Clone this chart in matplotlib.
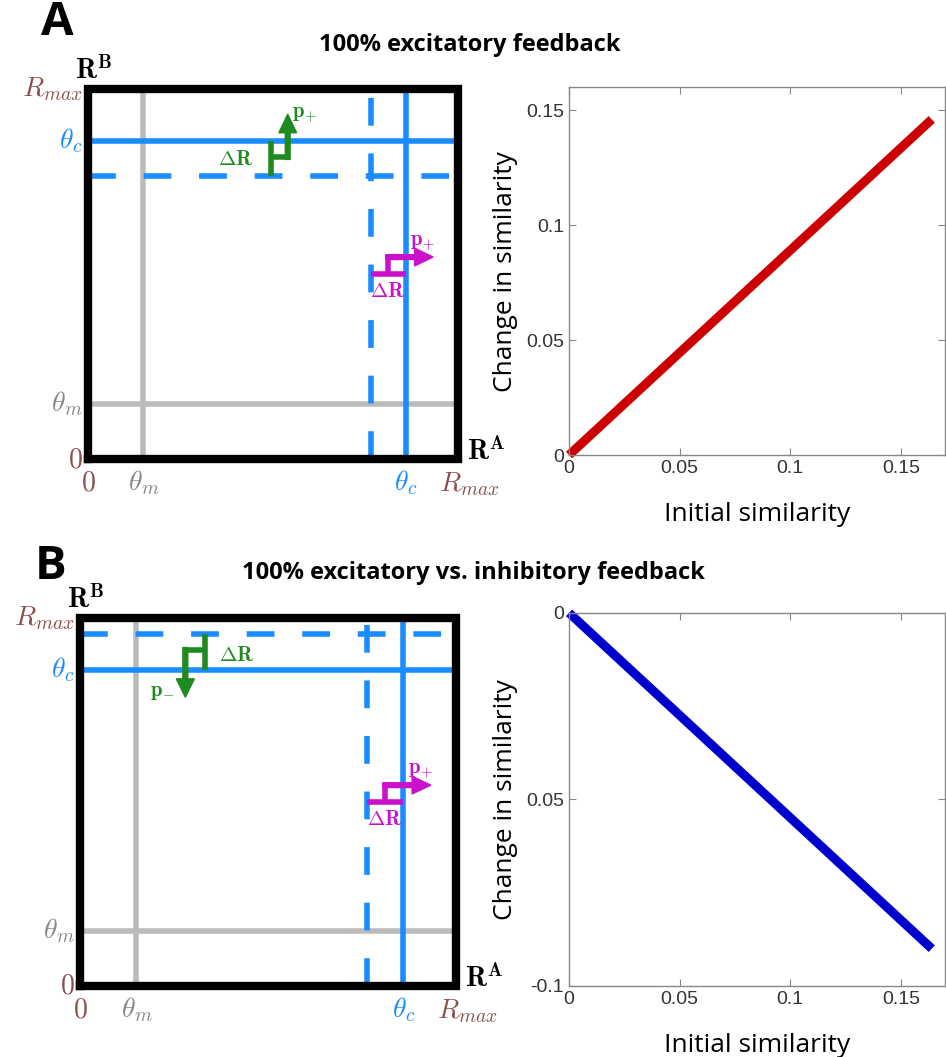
import matplotlib
matplotlib.use('Agg')
import matplotlib.pyplot as plt

plt.rcParams['mathtext.fontset'] = 'cm'

# threshold positions in the schematic (fraction of R_max)
theta_m = 0.15
theta_c = 0.86
shift_a = 0.765   # dashed theta_c after excitatory feedback (A)
shift_b_x = 0.763  # dashed vertical in B
shift_b_y = 0.957  # dashed horizontal in B

# right-hand line plots
init_sim = [0.0, 0.164]
change_exc = [0.0, 0.146]
change_inh = [0.0, -0.09]

BLUE = '#1a8cff'
GRAY = '#bbbbbb'
GREEN = '#1f8a1f'
MAGENTA = '#cc11cc'
BROWN = '#8c5050'

fig = plt.figure(figsize=(9.46, 10.57), dpi=100)


def schematic(rect, dash_x, dash_y):
    ax = fig.add_axes(rect)
    ax.set_xlim(0, 1)
    ax.set_ylim(0, 1)
    ax.axis('off')
    # gray theta_m lines
    ax.plot([theta_m, theta_m], [0, 1], color=GRAY, lw=4, zorder=1)
    ax.plot([0, 1], [theta_m, theta_m], color=GRAY, lw=4, zorder=1)
    # blue theta_c lines
    ax.plot([theta_c, theta_c], [0, 1], color=BLUE, lw=4, zorder=2)
    ax.plot([0, 1], [theta_c, theta_c], color=BLUE, lw=4, zorder=2)
    ax.plot([dash_x, dash_x], [0, 1], color=BLUE, lw=4, ls=(0, (5, 5)), zorder=2)
    ax.plot([0, 1], [dash_y, dash_y], color=BLUE, lw=4, ls=(0, (5, 5)), zorder=2)
    # black frame
    ax.plot([0, 1, 1, 0, 0], [0, 0, 1, 1, 0], color='black', lw=6,
            solid_joinstyle='miter', zorder=3, clip_on=False)
    kw = dict(fontsize=20, ha='right', va='center')
    ax.text(-0.015, 1.0, r'$R_{max}$', color=BROWN, **kw)
    ax.text(-0.015, theta_c, r'$\theta_c$', color=BLUE, **kw)
    ax.text(-0.015, theta_m, r'$\theta_m$', color='#888888', **kw)
    ax.text(-0.015, 0.0, r'$0$', color=BROWN, **kw)
    kw = dict(fontsize=20, ha='center', va='top')
    ax.text(0.0, -0.025, r'$0$', color=BROWN, **kw)
    ax.text(theta_m, -0.025, r'$\theta_m$', color='#888888', **kw)
    ax.text(theta_c, -0.025, r'$\theta_c$', color=BLUE, **kw)
    ax.text(1.03, -0.03, r'$R_{max}$', color=BROWN, **kw)
    ax.text(-0.035, 1.05, r'$\mathbf{R}^{\mathbf{B}}$', fontsize=20, ha='left', va='center')
    ax.text(1.025, 0.02, r'$\mathbf{R}^{\mathbf{A}}$', fontsize=20, ha='left', va='center')
    # magenta step arrow (same in both panels)
    ax.plot([dash_x, theta_c], [0.5, 0.5], color=MAGENTA, lw=4, solid_capstyle='butt', zorder=4)
    ax.plot([0.81, 0.81], [0.5, 0.546], color=MAGENTA, lw=4, solid_capstyle='butt', zorder=4)
    ax.arrow(0.805, 0.546, 0.128, 0, width=0.013, head_width=0.048, head_length=0.05,
             length_includes_head=True, color=MAGENTA, zorder=4)
    ax.text(0.905, 0.585, r'$\mathbf{p}_{+}$', color=MAGENTA, fontsize=15, ha='center', va='center')
    ax.text(0.81, 0.455, r'$\mathbf{\Delta R}$', color=MAGENTA, fontsize=15, ha='center', va='center')
    return ax


# panel A schematic
ax = schematic([0.093, 0.5657, 0.391, 0.350], shift_a, shift_a)
ax.plot([0.495, 0.495], [shift_a, theta_c], color=GREEN, lw=4, solid_capstyle='butt', zorder=4)
ax.plot([0.495, 0.54], [0.816, 0.816], color=GREEN, lw=4, solid_capstyle='butt', zorder=4)
ax.arrow(0.54, 0.81, 0, 0.122, width=0.013, head_width=0.048, head_length=0.05,
         length_includes_head=True, color=GREEN, zorder=4)
ax.text(0.585, 0.93, r'$\mathbf{p}_{+}$', color=GREEN, fontsize=15, ha='center', va='center')
ax.text(0.4, 0.81, r'$\mathbf{\Delta R}$', color=GREEN, fontsize=15, ha='center', va='center')

# panel B schematic
ax = schematic([0.0846, 0.0672, 0.3975, 0.348], shift_b_x, shift_b_y)
ax.plot([0.332, 0.332], [theta_c, shift_b_y], color=GREEN, lw=4, solid_capstyle='butt', zorder=4)
ax.plot([0.28, 0.332], [0.913, 0.913], color=GREEN, lw=4, solid_capstyle='butt', zorder=4)
ax.arrow(0.28, 0.92, 0, -0.135, width=0.013, head_width=0.048, head_length=0.05,
         length_includes_head=True, color=GREEN, zorder=4)
ax.text(0.415, 0.9, r'$\mathbf{\Delta R}$', color=GREEN, fontsize=15, ha='center', va='center')
ax.text(0.22, 0.8, r'$\mathbf{p}_{-}$', color=GREEN, fontsize=15, ha='center', va='center')


def line_plot(rect, y, color, ylim, yticks, yticklabels):
    ax = fig.add_axes(rect)
    ax.plot(init_sim, y, color=color, lw=6.5, solid_capstyle='butt', clip_on=False)
    ax.set_xlim(0, 0.17)
    ax.set_ylim(*ylim)
    ax.set_xticks([0, 0.05, 0.1, 0.15])
    ax.set_xticklabels(['0', '0.05', '0.1', '0.15'])
    ax.set_yticks(yticks)
    ax.set_yticklabels(yticklabels)
    for s in ax.spines.values():
        s.set_color('#888888')
        s.set_linewidth(1)
    ax.tick_params(direction='in', top=True, right=True, color='#888888', length=5,
                   labelsize=14, labelcolor='#333333')
    for lab in ax.get_xticklabels() + ax.get_yticklabels():
        lab.set_family('Liberation Sans')
    ax.set_xlabel('Initial similarity', fontsize=19, family='Open Sans', labelpad=18)
    ax.set_ylabel('Change in similarity', fontsize=19, family='Open Sans', labelpad=6)
    return ax


line_plot([0.6015, 0.5695, 0.3975, 0.348], change_exc, '#cc0000', (0, 0.16),
          [0, 0.05, 0.1, 0.15], ['0', '0.05', '0.1', '0.15'])
line_plot([0.6015, 0.0672, 0.3975, 0.353], change_inh, '#0000cc', (-0.1, 0),
          [-0.1, -0.05, 0], ['-0.1', '0.05', '0'])

# titles and panel letters
fig.text(0.497, 0.957, '100% excitatory feedback', fontsize=17, fontweight='bold',
         family='Open Sans', ha='center', va='center')
fig.text(0.5, 0.458, '100% excitatory vs. inhibitory feedback', fontsize=17,
         fontweight='bold', family='Open Sans', ha='center', va='center')
fig.text(0.061, 0.979, 'A', fontsize=34, fontweight='bold', family='Open Sans',
         ha='center', va='center')
fig.text(0.053, 0.464, 'B', fontsize=34, fontweight='bold', family='Open Sans',
         ha='center', va='center')

fig.savefig('out.png', dpi=100)
